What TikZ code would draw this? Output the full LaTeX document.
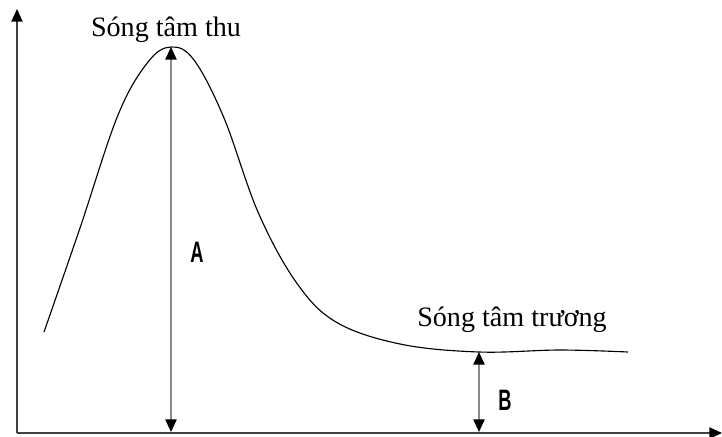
\documentclass[tikz,border=0pt]{standalone}
\usepackage{fontspec}
\setmainfont{Liberation Serif}
\newfontfamily\labelfont{Liberation Sans}
\usetikzlibrary{arrows.meta}
\begin{document}
\begin{tikzpicture}[x=0.025cm, y=-0.025cm,
    axis/.style={line width=1pt, black!75, -{Triangle[black, length=9pt, width=8pt]}},
    gap/.style={line width=1.3pt, black!45, {Triangle[black, length=9pt, width=8pt]}-{Triangle[black, length=9pt, width=8pt]}},
    wave/.style={font=\fontsize{20}{24}\selectfont},
    letter/.style={font=\labelfont\bfseries\fontsize{21}{24}\selectfont, xscale=0.62}]
    \useasboundingbox (0,0) rectangle (722,436);

    % Points of the axes
    \coordinate (O) at (17,433);
    \coordinate (Y) at (17,9);
    \coordinate (X) at (722,433);

    % Peak, plateau and their feet on the axis
    \coordinate (P) at (171,47);
    \coordinate (Pb) at (171,432);
    \coordinate (Q) at (479,352);
    \coordinate (Qb) at (479,432);

    % Draw the axes
    \draw[axis] (O) -- (Y);
    \draw[axis] (O) -- (X);

    % Draw the wave
    \draw[line width=0.8pt] plot[smooth, tension=0.6] coordinates {
        (44,332) (80,228) (118,115) (148,62) (P) (194,60) (224,118)
        (258,212) (296,282) (336,322) (400,344) (Q) (560,350) (628,352)};

    % Draw the amplitudes
    \draw[gap] (P) -- (Pb);
    \draw[gap] (Q) -- (Qb);

    % Place the labels
    \node[wave] (thu) at (166,30) {Sóng tâm thu};
    \node[wave] (truong) at (512,320) {Sóng tâm trương};
    \node[letter] (a) at (197,252) {A};
    \node[letter] (b) at (505,400) {B};
\end{tikzpicture}
\end{document}
